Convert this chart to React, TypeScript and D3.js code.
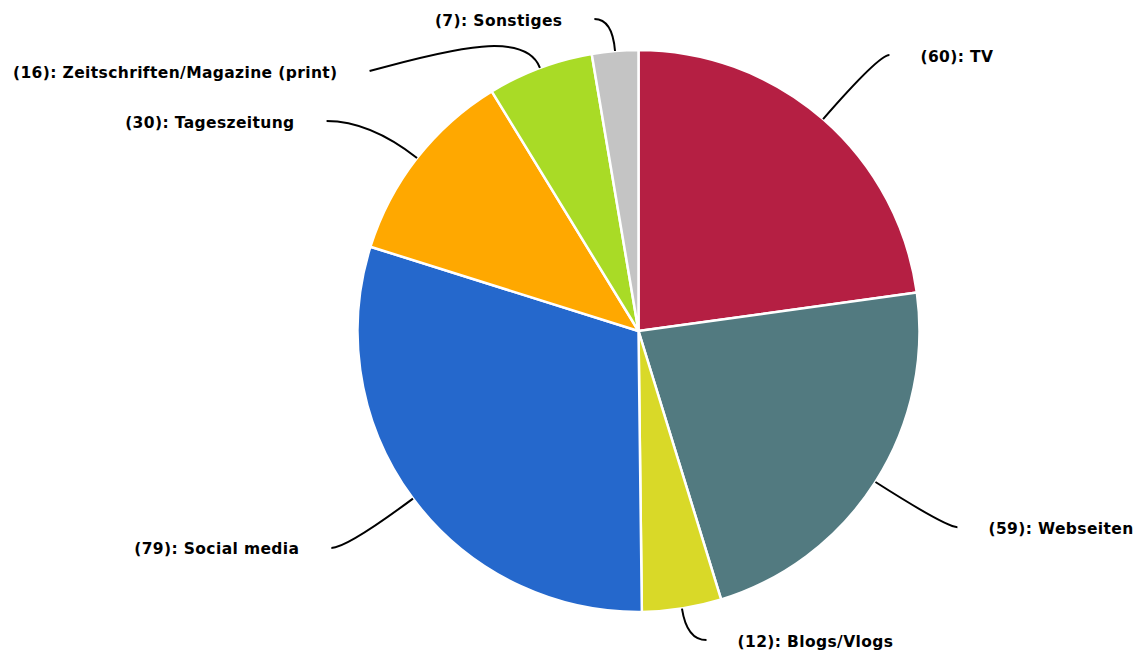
import React from "react";
import * as d3 from "d3";

const categories = ["TV", "Webseiten", "Blogs/Vlogs", "Social media", "Tageszeitung", "Zeitschriften/Magazine (print)", "Sonstiges"];
const values = [60, 59, 12, 79, 30, 16, 7];
const colors = ["#b51f43", "#527a80", "#d9d928", "#2568cc", "#ffa800", "#a9db26", "#c4c4c4"];

// label end points, relative to pie centre, in units of the radius (layout only)
const labelEnds: [number, number][] = [
  [0.893, -0.982],
  [1.135, 0.698],
  [0.242, 1.1],
  [-1.093, 0.772],
  [-1.11, -0.747],
  [-0.957, -0.925],
  [-0.157, -1.11],
];

const W = 1139;
const H = 650;
const cx = 638.5;
const cy = 331;
const R = 281;

export default function App() {
  const pie = d3.pie<number>().sort(null).value((d) => d)(values);
  const arc = d3.arc<d3.PieArcDatum<number>>().innerRadius(0).outerRadius(R);

  return (
    <svg
      width={W}
      height={H}
      style={{ position: "absolute", left: 0, top: 0, background: "#fff" }}
      fontFamily="DejaVu Sans, sans-serif"
    >
      <g transform={`translate(${cx},${cy})`}>
        {pie.map((p, i) => (
          <path key={i} d={arc(p) || ""} fill={colors[i]} stroke="#fff" strokeWidth={2.5} strokeLinejoin="round" />
        ))}
        {pie.map((p, i) => {
          const mid = (p.startAngle + p.endAngle) / 2;
          const sx = Math.sin(mid);
          const sy = -Math.cos(mid);
          const P0: [number, number] = [sx * R, sy * R];
          const E: [number, number] = [labelEnds[i][0] * R, labelEnds[i][1] * R];
          const right = E[0] > 0;
          let d: string;
          const dK = sy !== 0 ? E[1] / sy : R * 1.3;
          if (dK > R * 1.05) {
            const K: [number, number] = [sx * dK, E[1]];
            d = `M${P0[0]},${P0[1]}Q${K[0]},${K[1]} ${E[0]},${E[1]}`;
          } else {
            const c1: [number, number] = [sx * R * 1.14, sy * R * 1.14];
            const c2: [number, number] = [E[0] + 0.55 * (c1[0] - E[0]), c1[1] + 0.4 * (E[1] - c1[1])];
            d = `M${P0[0]},${P0[1]}C${c1[0]},${c1[1]} ${c2[0]},${c2[1]} ${E[0]},${E[1]}`;
          }
          return (
            <g key={"l" + i}>
              <path d={d} fill="none" stroke="#000" strokeWidth={2} />
              <text
                x={E[0] + (right ? 31 : -32)}
                y={E[1] + 6.5}
                textAnchor={right ? "start" : "end"}
                fontWeight="bold"
                fontSize={15.5}
                letterSpacing={0.38}
                fill="#000"
              >
                {`(${values[i]}): ${categories[i]}`}
              </text>
            </g>
          );
        })}
      </g>
    </svg>
  );
}
